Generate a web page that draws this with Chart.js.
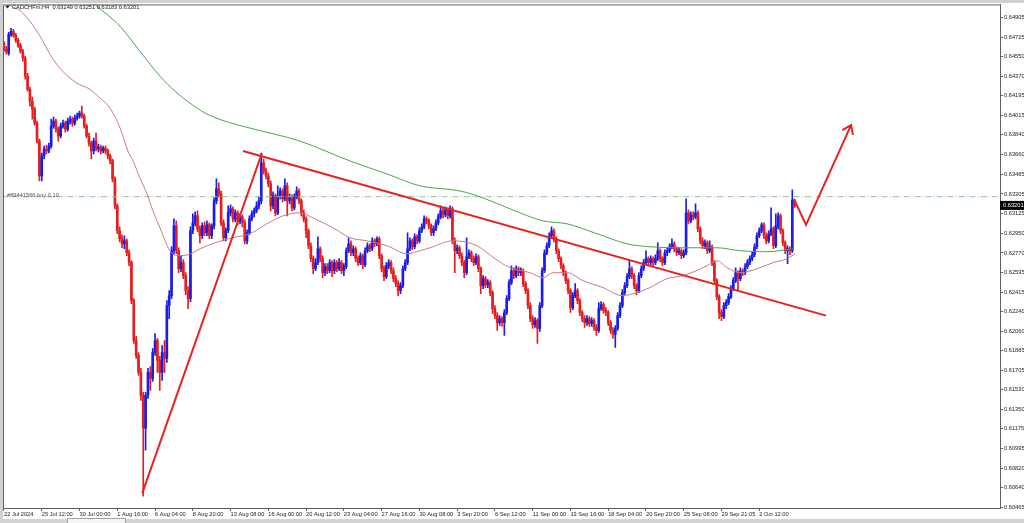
<!DOCTYPE html>
<html>
<head>
<meta charset="utf-8">
<script src="https://cdn.jsdelivr.net/npm/chart.js@4.4.1/dist/chart.umd.min.js"></script>
<style>
  html, body { margin: 0; padding: 0; background: #fff; }
  #wrap { width: 1024px; height: 523px; position: relative; }
</style>
</head>
<body>
<div id="wrap"><canvas id="chart"></canvas></div>
<script>
// CADCHFm H4 candles, prices in points (1e-5)
const symbol = 'CADCHFm';
const timeframe = 'H4';

const opens = [
  64670,64616,64580,64752,64779,64743,64697,64652,64598,64535,
  64372,64254,64146,64074,63947,63784,63468,63649,63712,63694,
  63739,63920,63965,63893,63830,63920,63947,63893,63965,63983,
  63947,63992,64010,64038,64010,63920,63830,63766,63694,63784,
  63712,63730,63694,63721,63694,63649,63604,63441,63197,62971,
  62899,62853,62880,62772,62682,62338,61976,61841,61687,61479,
  61181,61479,61687,61633,61868,61976,61796,61687,61868,61814,
  62293,62383,62790,63016,62790,62627,62682,62564,62428,62356,
  62971,63043,63106,62989,62926,63016,62953,63025,62926,63016,
  63242,63351,63305,63043,62908,62971,63134,63170,63079,63134,
  63061,63097,63043,62880,62953,63079,63125,63152,63197,63242,
  63586,63513,63468,63396,63197,63287,63134,63287,63332,63260,
  63378,63242,63278,63179,63278,63332,63242,63134,63079,62971,
  62835,62718,62627,62682,62808,62718,62591,62645,62609,62682,
  62609,62682,62627,62682,62609,62645,62790,62853,62772,62808,
  62718,62682,62745,62664,62790,62835,62808,62880,62853,62899,
  62745,62627,62555,62654,62682,62609,62537,62492,62428,62474,
  62627,62682,62808,62880,62826,62917,62880,62971,63007,63079,
  63061,63016,62953,62989,63043,63097,63152,63116,63161,63106,
  63170,62880,62790,62817,62745,62682,62591,62736,62772,62718,
  62682,62736,62627,62474,62537,62483,62501,62410,62266,62202,
  62139,62175,62139,62230,62356,62501,62609,62564,62627,62591,
  62609,62492,62428,62293,62175,62121,62157,62085,62293,62609,
  62772,62835,62926,62971,62899,62790,62718,62654,62591,62519,
  62428,62275,62383,62428,62338,62230,62175,62139,62175,62130,
  62157,62094,62067,62266,62302,62248,62230,62139,62067,62031,
  62085,62202,62293,62410,62474,62555,62627,62564,62474,62428,
  62564,62627,62682,62718,62682,62718,62682,62718,62790,62718,
  62682,62772,62790,62826,62853,62808,62772,62790,62745,62772,
  63134,63061,63116,63097,63134,62989,62880,62835,62862,62790,
  62826,62682,62519,62374,62230,62193,62293,62320,62374,62447,
  62519,62591,62537,62609,62591,62645,62682,62718,62754,62826,
  62926,62971,63025,62926,62880,62944,62989,62835,63016,63106,
  62971,62862,62790,62808,62790,63249
];
const highs = [
  64688,64643,64770,64806,64797,64761,64716,64670,64616,64553,
  64399,64273,64182,64092,63965,63802,63676,63739,63748,63766,
  63983,64001,63983,63911,63947,63974,63965,63992,64010,64001,
  64019,64038,64056,64101,64029,63938,63857,63784,63812,63857,
  63757,63748,63739,63739,63712,63667,63622,63459,63215,63007,
  62935,62926,62899,62799,62700,62356,62013,61868,61723,61506,
  61506,61723,61741,61904,62040,61995,61832,61931,61976,62338,
  62428,62826,63079,63061,62817,62745,62709,62591,62465,63007,
  63125,63143,63152,63016,63043,63052,63061,63043,63034,63269,
  63441,63405,63332,63070,62998,63197,63206,63188,63161,63152,
  63125,63116,63070,62980,63106,63152,63179,63233,63278,63676,
  63622,63540,63495,63423,63324,63305,63378,63360,63351,63441,
  63405,63305,63296,63305,63369,63351,63260,63161,63097,62989,
  62862,62745,62718,62917,62826,62745,62673,62673,62709,62700,
  62709,62700,62718,62700,62673,62817,62908,62880,62835,62826,
  62745,62772,62763,62817,62862,62853,62908,62899,62917,62917,
  62763,62654,62682,62709,62700,62636,62564,62519,62501,62654,
  62709,62953,62908,62899,62944,62935,62998,63034,63106,63097,
  63079,63034,63016,63070,63125,63197,63179,63188,63179,63197,
  63188,62908,62844,62835,62772,62700,62908,62799,62790,62745,
  62763,62754,62645,62564,62555,62528,62519,62428,62293,62230,
  62202,62193,62257,62383,62528,62654,62636,62654,62645,62636,
  62627,62510,62447,62320,62202,62184,62175,62320,62636,62799,
  62862,62953,63007,62989,62917,62808,62736,62673,62609,62537,
  62447,62410,62492,62447,62356,62248,62202,62202,62193,62184,
  62175,62121,62320,62329,62320,62275,62248,62157,62094,62112,
  62230,62320,62438,62501,62582,62700,62645,62582,62492,62591,
  62654,62709,62790,62736,62745,62736,62754,62862,62808,62736,
  62799,62817,62853,62899,62871,62826,62817,62808,62799,63260,
  63161,63143,63143,63215,63152,63007,62908,62890,62880,62880,
  62844,62700,62537,62392,62257,62320,62347,62401,62474,62546,
  62636,62609,62636,62627,62673,62709,62745,62781,62853,62953,
  62998,63043,63043,62953,62971,63179,63007,63125,63134,63125,
  62989,62880,62835,62826,63342,63251
];
const lows = [
  64598,64571,64562,64734,64725,64679,64634,64580,64508,64345,
  64236,64101,63983,63929,63766,63423,63423,63622,63667,63676,
  63721,63902,63866,63784,63812,63902,63866,63875,63938,63920,
  63929,63974,63992,63992,63902,63812,63739,63622,63667,63694,
  63685,63667,63676,63667,63622,63576,63414,63170,62944,62871,
  62817,62808,62745,62654,62311,61949,61814,61660,61434,60566,
  60982,61452,61524,61606,61841,61687,61524,61615,61687,61778,
  62175,62356,62763,62763,62591,62600,62537,62392,62266,62329,
  62944,63016,62962,62862,62899,62926,62926,62899,62899,62989,
  63215,63278,63016,62880,62880,62953,63106,63052,63052,63025,
  63034,63007,62853,62853,62935,63061,63097,63134,63170,63215,
  63486,63441,63369,63152,63170,63106,63116,63260,63233,63242,
  63106,63215,63152,63161,63260,63215,63106,63052,62908,62808,
  62691,62582,62609,62664,62691,62546,62564,62582,62591,62555,
  62582,62600,62609,62582,62564,62627,62772,62745,62745,62691,
  62654,62664,62627,62645,62772,62781,62790,62826,62835,62718,
  62600,62519,62537,62627,62582,62510,62465,62383,62401,62456,
  62609,62664,62790,62799,62808,62853,62862,62953,62989,63034,
  62989,62926,62926,62971,63025,63079,63088,63097,63079,63088,
  62853,62591,62763,62718,62654,62546,62573,62718,62691,62654,
  62664,62600,62401,62447,62456,62456,62383,62221,62175,62067,
  62112,62103,62022,62211,62338,62483,62537,62546,62564,62564,
  62465,62401,62266,62148,62085,62094,61949,62058,62275,62591,
  62754,62817,62908,62871,62763,62691,62627,62564,62492,62401,
  62230,62257,62365,62311,62202,62148,62094,62112,62103,62103,
  62067,62022,62049,62248,62221,62202,62112,62040,61995,61913,
  62067,62184,62275,62392,62456,62537,62537,62447,62392,62410,
  62546,62609,62664,62654,62664,62654,62664,62700,62691,62654,
  62664,62745,62772,62808,62781,62745,62754,62718,62727,62754,
  63034,63043,63070,63079,62962,62853,62808,62808,62763,62772,
  62654,62492,62347,62175,62157,62175,62266,62302,62356,62428,
  62501,62428,62519,62564,62573,62627,62664,62700,62736,62808,
  62908,62953,62899,62853,62862,62926,62808,62817,62989,62944,
  62835,62763,62673,62754,62772,63183
];
const closes = [
  64616,64598,64752,64779,64743,64697,64652,64598,64535,64372,
  64254,64146,64074,63947,63784,63468,63649,63712,63694,63739,
  63920,63965,63893,63830,63920,63947,63893,63965,63983,63947,
  63992,64010,64038,64010,63920,63830,63766,63694,63784,63712,
  63730,63694,63721,63694,63649,63604,63441,63197,62971,62899,
  62853,62880,62772,62682,62338,61976,61841,61687,61479,61181,
  61479,61687,61633,61868,61976,61796,61687,61868,61814,62293,
  62383,62790,63016,62790,62627,62682,62564,62428,62356,62971,
  63043,63106,62989,62926,63016,62953,63025,62926,63016,63242,
  63351,63305,63043,62908,62971,63134,63170,63079,63134,63061,
  63097,63043,62880,62953,63079,63125,63152,63197,63242,63586,
  63513,63468,63396,63197,63287,63134,63287,63332,63260,63378,
  63242,63278,63179,63278,63332,63242,63134,63079,62971,62835,
  62718,62627,62682,62808,62718,62591,62645,62609,62682,62609,
  62682,62627,62682,62609,62645,62790,62853,62772,62808,62718,
  62682,62745,62664,62790,62835,62808,62880,62853,62899,62745,
  62627,62555,62654,62682,62609,62537,62492,62428,62474,62627,
  62682,62808,62880,62826,62917,62880,62971,63007,63079,63061,
  63016,62953,62989,63043,63097,63152,63116,63161,63106,63170,
  62880,62790,62817,62745,62682,62591,62736,62772,62718,62682,
  62736,62627,62474,62537,62483,62501,62410,62266,62202,62139,
  62175,62139,62230,62356,62501,62609,62564,62627,62591,62609,
  62492,62428,62293,62175,62121,62157,62085,62293,62609,62772,
  62835,62926,62971,62899,62790,62718,62654,62591,62519,62428,
  62275,62383,62428,62338,62230,62175,62139,62175,62130,62157,
  62094,62067,62266,62302,62248,62230,62139,62067,62031,62085,
  62202,62293,62410,62474,62555,62627,62564,62474,62428,62564,
  62627,62682,62718,62682,62718,62682,62718,62790,62718,62682,
  62772,62790,62826,62853,62808,62772,62790,62745,62772,63134,
  63061,63116,63097,63134,62989,62880,62835,62862,62790,62826,
  62682,62519,62374,62230,62193,62293,62320,62374,62447,62519,
  62591,62537,62609,62591,62645,62682,62718,62754,62826,62926,
  62971,63025,62926,62880,62944,62989,62835,63016,63106,62971,
  62862,62790,62808,62790,63249,63201
];

// moving averages (bar index, price points)
const maSlowX = [34.3, 38.5, 49.2, 57.6, 66.1, 72.5, 78.8, 85.2, 93.6, 104.2, 125.4, 146.6, 162.3, 176.3, 193.2, 203, 214.4, 228.4, 238.6, 251.3, 264, 273.7, 290.7, 302.1, 311.9, 323.3, 334.3];
const maSlowY = [65104, 65023, 64824, 64598, 64372, 64236, 64128, 64038, 63965, 63902, 63784, 63604, 63486, 63378, 63332, 63269, 63170, 63061, 63034, 62944, 62853, 62826, 62817, 62817, 62790, 62781, 62808];
const maFastX = [1.3, 2.5, 6.8, 11, 15.3, 19.5, 23.7, 30.9, 36.4, 40.7, 44.9, 49.2, 52.5, 54.7, 57.6, 60.6, 63.1, 66.1, 70.3, 74.6, 78, 83.1, 89.4, 97, 104.2, 111.4, 118.2, 125.4, 130.9, 139.4, 146.6, 153.8, 162.3, 170.8, 176.3, 180.5, 190.3, 200.4, 208, 214.4, 222.9, 228.4, 232.6, 238.6, 245.3, 253.8, 261.9, 268.2, 273.7, 280.9, 287.7, 297.9, 302.1, 306.4, 311.9, 319.1, 325.8, 331.8, 335.2];
const maFastY = [65077, 65023, 64969, 64869, 64734, 64571, 64444, 64309, 64254, 64173, 64083, 63902, 63694, 63604, 63450, 63305, 63152, 62998, 62790, 62745, 62754, 62808, 62862, 62908, 62944, 63034, 63106, 63134, 63088, 62998, 62908, 62880, 62835, 62763, 62790, 62817, 62880, 62835, 62718, 62636, 62591, 62546, 62591, 62591, 62519, 62456, 62383, 62410, 62456, 62537, 62564, 62654, 62700, 62636, 62591, 62627, 62682, 62718, 62763];

// drawn objects: trend lines and arrow
const trendUpX = [58.6, 109.3];
const trendUpY = [60593, 63676];
const trendDownX = [101.3, 348.3];
const trendDownY = [63694, 62202];
const arrowX = [334.7, 339.8, 358.9];
const arrowY = [63260, 63025, 63929];
const arrowHeadX = [355.2, 358.9, 359.7];
const arrowHeadY = [63883, 63929, 63840];

const orderPrice = 63280;
const orderText = '#89441566 buy 0.10';

const xTickIdx = [0, 16, 32, 48, 64, 80, 96, 112, 128, 144, 160, 176, 192, 208, 224, 240, 256, 272, 288, 304, 320];
const xTickLabels = ['22 Jul 2024', '25 Jul 12:00', '30 Jul 00:00', '1 Aug 16:00', '6 Aug 04:00', '8 Aug 20:00', '13 Aug 08:00', '16 Aug 00:00', '20 Aug 12:00', '23 Aug 04:00', '27 Aug 16:00', '30 Aug 08:00', '3 Sep 20:00', '6 Sep 12:00', '11 Sep 00:00', '13 Sep 16:00', '18 Sep 04:00', '20 Sep 20:00', '25 Sep 08:00', '29 Sep 21:05', '2 Oct 12:00'];
const yTicks = [0.64905, 0.64725, 0.64550, 0.64370, 0.64195, 0.64015, 0.63840, 0.63660, 0.63485, 0.63305, 0.63125, 0.62950, 0.62770, 0.62595, 0.62415, 0.62240, 0.62060, 0.61885, 0.61705, 0.61530, 0.61350, 0.61175, 0.60995, 0.60820, 0.60640, 0.60465];

const P = v => v / 100000;
const n = closes.length;
const BLUE = '#1c1ce8';
const RED = '#e41e1e';
const TREND = '#e8201e';
const FONT = 'Liberation Sans, Arial, sans-serif';
const candleColors = closes.map((c, i) => c >= opens[i] ? BLUE : RED);
const pts = (xs, ys) => xs.map((x, i) => ({ x: x, y: P(ys[i]) }));

const decor = {
  id: 'decor',
  beforeDraw(chart) {
    const ctx = chart.ctx;
    ctx.save();
    ctx.fillStyle = '#d0d0d0';
    ctx.fillRect(0, 0, chart.width, chart.height);
    ctx.fillStyle = '#ffffff';
    ctx.fillRect(3, 3, chart.width - 3, 516);
    ctx.restore();
  },
  afterDraw(chart) {
    const ctx = chart.ctx;
    const a = chart.chartArea;
    const y = chart.scales.y;
    ctx.save();
    // frame top / left
    ctx.strokeStyle = '#606060';
    ctx.lineWidth = 1;
    ctx.beginPath();
    ctx.moveTo(a.left + 0.5, a.bottom);
    ctx.lineTo(a.left + 0.5, a.top + 0.5);
    ctx.lineTo(a.right, a.top + 0.5);
    ctx.stroke();

    // title
    const last = n - 1;
    ctx.fillStyle = '#202020';
    ctx.beginPath();
    ctx.moveTo(5, 5.5); ctx.lineTo(10, 5.5); ctx.lineTo(7.5, 8.5); ctx.closePath();
    ctx.fill();
    ctx.font = '5.7px ' + FONT;
    ctx.textBaseline = 'middle';
    ctx.textAlign = 'left';
    const ohlc = [opens[last], highs[last], lows[last], closes[last]].map(v => P(v).toFixed(5)).join(' ');
    ctx.fillText(symbol + ',' + timeframe + '  ' + ohlc, 12, 7);

    // order label
    const oy = y.getPixelForValue(P(orderPrice));
    ctx.fillStyle = '#505050';
    ctx.fillText(orderText, 7, oy - 1);

    // current price box
    const py = y.getPixelForValue(P(closes[last]));
    ctx.fillStyle = '#000';
    ctx.fillRect(a.right, py - 4.5, chart.width - a.right, 9);
    ctx.fillStyle = '#fff';
    ctx.fillText(P(closes[last]).toFixed(5), a.right + 3, py);

    // bottom tab strip
    ctx.fillStyle = '#d4d4d4';
    ctx.fillRect(0, 519, chart.width, 4);
    ctx.fillStyle = '#f4f4f4';
    ctx.fillRect(67, 519, 58, 4);
    ctx.strokeStyle = '#a0a0a0';
    ctx.strokeRect(67.5, 518.5, 58, 5);
    ctx.restore();
  }
};

const tickFont = { family: FONT, size: 5.7 };

new Chart(document.getElementById('chart'), {
  type: 'bar',
  data: {
    datasets: [
      {
        label: 'wicks',
        data: closes.map((c, i) => ({ x: i, y: [P(lows[i]), P(highs[i])] })),
        backgroundColor: candleColors,
        barThickness: 1,
        grouped: false,
        order: 10
      },
      {
        label: 'bodies',
        data: closes.map((c, i) => ({ x: i, y: [P(opens[i]), P(c)] })),
        backgroundColor: candleColors,
        barThickness: 2,
        minBarLength: 1,
        grouped: false,
        order: 9
      },
      {
        type: 'line', label: 'order',
        data: [{ x: -1, y: P(orderPrice) }, { x: 430, y: P(orderPrice) }],
        borderColor: '#97c197', borderWidth: 1, borderDash: [6, 2, 1, 2],
        pointRadius: 0, order: 8
      },
      {
        type: 'line', label: 'MA slow',
        data: pts(maSlowX, maSlowY),
        borderColor: '#4aa64a', borderWidth: 1, pointRadius: 0,
        cubicInterpolationMode: 'monotone', order: 6
      },
      {
        type: 'line', label: 'MA fast',
        data: pts(maFastX, maFastY),
        borderColor: '#c77b86', borderWidth: 1, pointRadius: 0,
        cubicInterpolationMode: 'monotone', order: 5
      },
      {
        type: 'line', label: 'trend up',
        data: pts(trendUpX, trendUpY),
        borderColor: TREND, borderWidth: 2, pointRadius: 0, order: 2
      },
      {
        type: 'line', label: 'trend down',
        data: pts(trendDownX, trendDownY),
        borderColor: TREND, borderWidth: 2, pointRadius: 0, order: 2
      },
      {
        type: 'line', label: 'arrow',
        data: pts(arrowX, arrowY),
        borderColor: TREND, borderWidth: 2, pointRadius: 0, order: 1
      },
      {
        type: 'line', label: 'arrow head',
        data: pts(arrowHeadX, arrowHeadY),
        borderColor: TREND, borderWidth: 2, pointRadius: 0, order: 1
      }
    ]
  },
  options: {
    responsive: true,
    maintainAspectRatio: false,
    animation: false,
    devicePixelRatio: 1,
    layout: { padding: { left: 3, top: 3, right: 0, bottom: 0 } },
    plugins: { legend: { display: false }, tooltip: { enabled: false } },
    scales: {
      x: {
        type: 'linear',
        min: -0.42,
        max: 422,
        offset: false,
        grid: { display: true, offset: false, drawOnChartArea: false, drawTicks: true, tickLength: 3, color: '#606060' },
        border: { display: true, color: '#606060' },
        ticks: {
          autoSkip: false, maxRotation: 0, align: 'start', padding: 0,
          font: tickFont, color: '#222',
          callback: (v, idx) => xTickLabels[idx]
        },
        afterBuildTicks: ax => { ax.ticks = xTickIdx.map(v => ({ value: v })); },
        afterFit: ax => { ax.height = 15; }
      },
      y: {
        position: 'right',
        min: 0.60458,
        max: 0.65023,
        beginAtZero: false,
        grid: { display: true, drawOnChartArea: false, drawTicks: true, tickLength: 3, color: '#606060' },
        border: { display: true, color: '#606060' },
        ticks: {
          autoSkip: false, padding: 1,
          font: tickFont, color: '#222',
          callback: v => v.toFixed(5)
        },
        afterBuildTicks: ax => { ax.ticks = yTicks.map(v => ({ value: v })); },
        afterFit: ax => { ax.width = 24; }
      }
    }
  },
  plugins: [decor]
});
</script>
</body>
</html>
